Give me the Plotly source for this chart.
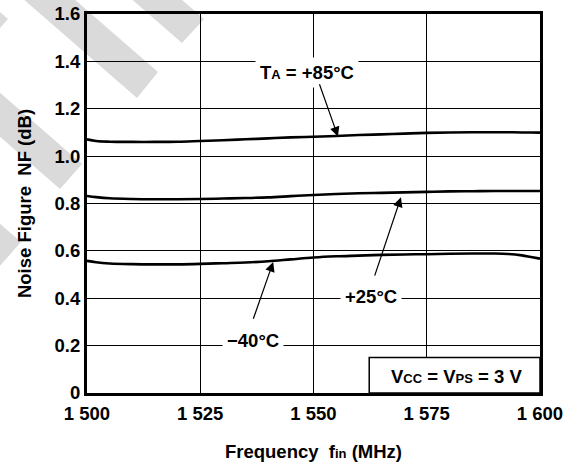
import plotly.graph_objects as go
import math

# ---------------- data ----------------
freq = [1500, 1502, 1505, 1510, 1515, 1520, 1525, 1530, 1535, 1540, 1545, 1550,
        1555, 1560, 1565, 1570, 1575, 1580, 1585, 1590, 1593, 1596, 1598, 1600]
nf_85 = [1.071, 1.064, 1.061, 1.060, 1.060, 1.061, 1.064, 1.067, 1.071, 1.075, 1.079, 1.082,
         1.085, 1.089, 1.092, 1.095, 1.098, 1.100, 1.101, 1.101, 1.101, 1.100, 1.100, 1.099]
nf_25 = [0.832, 0.827, 0.822, 0.819, 0.818, 0.818, 0.819, 0.821, 0.823, 0.826, 0.831, 0.836,
         0.840, 0.843, 0.845, 0.847, 0.849, 0.851, 0.852, 0.853, 0.853, 0.853, 0.853, 0.853]
nf_m40 = [0.558, 0.552, 0.547, 0.544, 0.543, 0.543, 0.545, 0.548, 0.551, 0.556, 0.564, 0.572,
          0.577, 0.580, 0.583, 0.585, 0.586, 0.588, 0.589, 0.589, 0.587, 0.581, 0.574, 0.567]

x_tickvals = [1500, 1525, 1550, 1575, 1600]
x_ticktext = ["1 500", "1 525", "1 550", "1 575", "1 600"]
y_tickvals = [0, 0.2, 0.4, 0.6, 0.8, 1.0, 1.2, 1.4, 1.6]
y_ticktext = ["0", "0.2", "0.4", "0.6", "0.8", "1.0", "1.2", "1.4", "1.6"]

FONT = "Liberation Sans, Arial, sans-serif"
FS = 18.5
SUB = "<span style='font-size:13px'>%s</span>"

def B(t):
    return "<b>" + t + "</b>"

fig = go.Figure()
for ys in (nf_85, nf_25, nf_m40):
    fig.add_trace(go.Scatter(x=freq, y=ys, mode="lines", line=dict(color="black", width=2.6, shape="spline"),
                             showlegend=False, hoverinfo="skip"))

# layout geometry (pixels)
L, R, T, Bm = 87, 39, 14, 75
W, H = 579, 468
pw, ph = W - L - R, H - T - Bm

def to_paper(x, y):
    return (x - L) / pw, (H - Bm - y) / ph

# watermark stripes (decorative)
stripes = [((204, 19), (182, 43)), ((158, 72), (137, 98)), ((8, 19), (-14, 44)),
           ((82, 164), (60, 189)), ((21, 242), (-1, 267))]
dx, dy = -1 / math.hypot(1, 0.87), -0.87 / math.hypot(1, 0.87)
shapes = []
for (ux, uy), (lx, ly) in stripes:
    ln = 320
    pts = [(ux, uy), (lx, ly), (lx + dx * ln, ly + dy * ln), (ux + dx * ln, uy + dy * ln)]
    pp = [to_paper(*p) for p in pts]
    path = "M " + " L ".join(f"{a:.4f},{b:.4f}" for a, b in pp) + " Z"
    shapes.append(dict(type="path", path=path, xref="paper", yref="paper", layer="below",
                       fillcolor="#dadada", line=dict(width=0)))

# condition box
shapes.append(dict(type="rect", xref="x", yref="y", x0=1562.3, x1=1600, y0=0, y1=0.150,
                   fillcolor="white", line=dict(color="black", width=1.5), layer="above"))

annotations = []
def label(text, x, y, pad=3):
    annotations.append(dict(x=x, y=y, xref="x", yref="y", text=B(text), showarrow=False,
                            font=dict(family=FONT, size=FS, color="black"),
                            bgcolor="white", borderpad=pad))

label("T" + SUB % "A" + " = +85°C", 1548.6, 1.352, pad=4)
label("+25°C", 1562.8, 0.406, pad=4)
label("\u221240°C", 1536.6, 0.223, pad=4)
annotations.append(dict(x=1581.5, y=0.068, xref="x", yref="y",
                        text=B("V" + SUB % "CC" + " = V" + SUB % "PS" + " = 3 V"), showarrow=False,
                        font=dict(family=FONT, size=FS, color="black")))

def arrow(x0, y0, x1, y1):
    annotations.append(dict(x=x1, y=y1, ax=x0, ay=y0, xref="x", yref="y", axref="x", ayref="y",
                            text="", showarrow=True, arrowhead=2, arrowsize=1.6, arrowwidth=1.2,
                            arrowcolor="black", standoff=0))

arrow(1551.2, 1.31, 1555.4, 1.083)
arrow(1563.4, 0.489, 1569.3, 0.826)
arrow(1536.6, 0.307, 1541.1, 0.553)

axis_common = dict(showline=True, linecolor="black", linewidth=3, mirror=True,
                   showgrid=True, gridcolor="black", gridwidth=1.2, zeroline=False,
                   ticks="", automargin=False,
                   tickfont=dict(family=FONT, size=FS, color="black", weight="bold"))

fig.update_layout(
    width=W, height=H,
    margin=dict(l=L, r=R, t=T, b=Bm, autoexpand=False),
    paper_bgcolor="white", plot_bgcolor="rgba(0,0,0,0)",
    xaxis=dict(range=[1500, 1600], tickvals=x_tickvals, ticktext=x_ticktext, ticklabelstandoff=2,
               title=dict(text=B("Frequency\u00a0\u00a0f" + SUB % "in" + " (MHz)"),
                          font=dict(family=FONT, size=FS, color="black"), standoff=22),
               **axis_common),
    yaxis=dict(range=[0, 1.6], tickvals=y_tickvals, ticktext=y_ticktext,
               title=dict(text=B("Noise Figure\u00a0\u00a0NF (dB)"),
                          font=dict(family=FONT, size=FS, color="black"), standoff=19),
               **axis_common),
    shapes=shapes, annotations=annotations,
)

fig.write_html("out.html", config={"displayModeBar": False},
               post_script="document.body.style.margin='0';document.body.style.padding='0';")
